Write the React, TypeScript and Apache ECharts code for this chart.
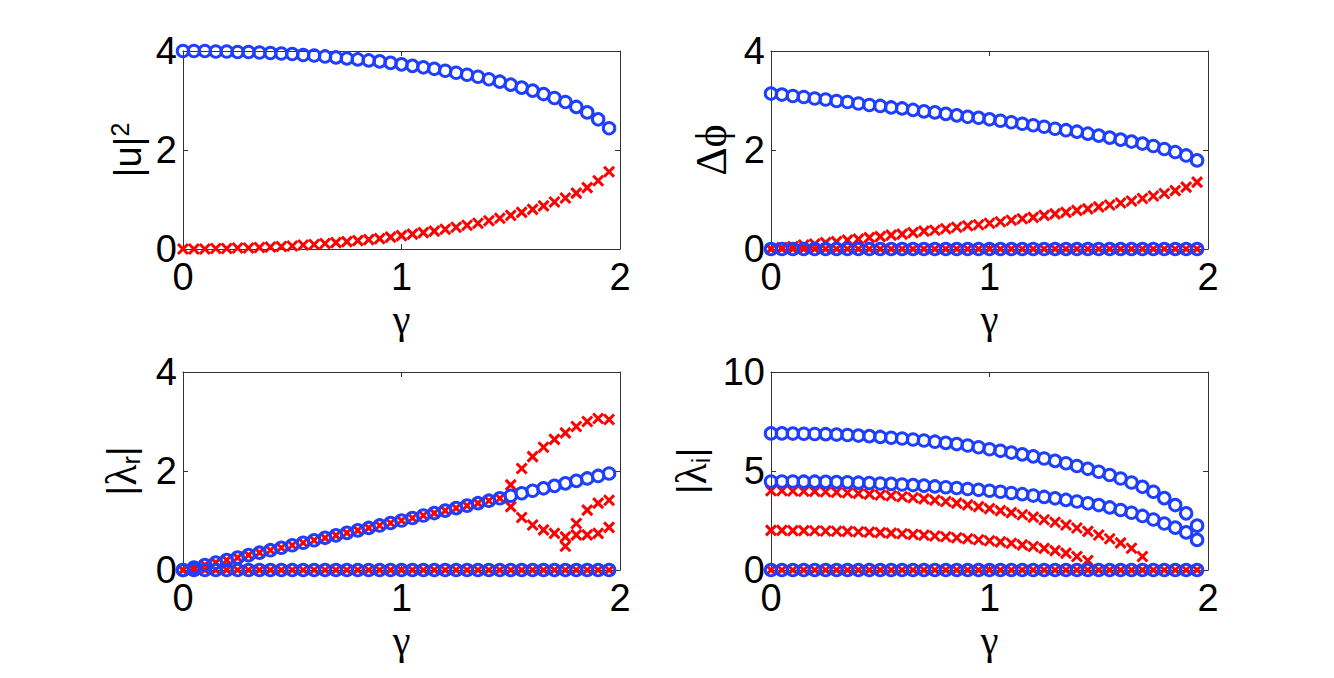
import React, { useEffect, useRef } from "react";
import * as echarts from "echarts";

// gamma grid (x values)
const gamma: number[] = [
  0, 0.05, 0.1, 0.15, 0.2, 0.25, 0.3, 0.35, 0.4, 0.45, 0.5, 0.55, 0.6, 0.65, 0.7, 0.75, 0.8, 0.85, 0.9, 0.95,
  1.0, 1.05, 1.1, 1.15, 1.2, 1.25, 1.3, 1.35, 1.4, 1.45, 1.5, 1.55, 1.6, 1.65, 1.7, 1.75, 1.8, 1.85, 1.9, 1.95,
];

// panel 1: |u|^2
const u2Blue: number[] = [
  4.0, 4.0, 4.0, 3.99, 3.99, 3.98, 3.98, 3.97, 3.96, 3.95, 3.94, 3.92, 3.91, 3.89, 3.87, 3.85, 3.83, 3.81, 3.79, 3.76,
  3.73, 3.7, 3.67, 3.64, 3.6, 3.56, 3.52, 3.48, 3.43, 3.38, 3.32, 3.26, 3.2, 3.13, 3.05, 2.97, 2.87, 2.76, 2.62, 2.44,
];
const u2Red: number[] = [
  0.0, 0.0, 0.0, 0.01, 0.01, 0.02, 0.02, 0.03, 0.04, 0.05, 0.06, 0.08, 0.09, 0.11, 0.13, 0.15, 0.17, 0.19, 0.21, 0.24,
  0.27, 0.3, 0.33, 0.36, 0.4, 0.44, 0.48, 0.52, 0.57, 0.62, 0.68, 0.74, 0.8, 0.87, 0.95, 1.03, 1.13, 1.24, 1.38, 1.56,
];

// panel 2: delta phi
const phiBlue: number[] = [
  3.14, 3.12, 3.09, 3.07, 3.04, 3.02, 2.99, 2.97, 2.94, 2.91, 2.89, 2.86, 2.84, 2.81, 2.78, 2.76, 2.73, 2.7, 2.67, 2.65,
  2.62, 2.59, 2.56, 2.53, 2.5, 2.47, 2.43, 2.4, 2.37, 2.33, 2.29, 2.25, 2.21, 2.17, 2.13, 2.08, 2.02, 1.96, 1.89, 1.79,
];
const phiRed: number[] = [
  0.0, 0.03, 0.05, 0.08, 0.1, 0.13, 0.15, 0.18, 0.2, 0.23, 0.25, 0.28, 0.3, 0.33, 0.36, 0.38, 0.41, 0.44, 0.47, 0.49,
  0.52, 0.55, 0.58, 0.61, 0.64, 0.68, 0.71, 0.74, 0.78, 0.81, 0.85, 0.89, 0.93, 0.97, 1.02, 1.07, 1.12, 1.18, 1.25, 1.35,
];
const phiZeroBlue: number[] = gamma.map(() => 0);
const phiZeroRed: number[] = gamma.map(() => 0);

// panel 3: |lambda_r|
const lrBlueLine: number[] = [
  0.0, 0.05, 0.1, 0.15, 0.2, 0.25, 0.3, 0.35, 0.4, 0.45, 0.5, 0.55, 0.6, 0.65, 0.7, 0.75, 0.8, 0.85, 0.9, 0.95,
  1.0, 1.05, 1.1, 1.15, 1.2, 1.25, 1.3, 1.35, 1.4, 1.45, 1.5, 1.55, 1.6, 1.65, 1.7, 1.75, 1.8, 1.85, 1.9, 1.95,
];
const lrRedLineG: number[] = [
  0, 0.05, 0.1, 0.15, 0.2, 0.25, 0.3, 0.35, 0.4, 0.45, 0.5, 0.55, 0.6, 0.65, 0.7, 0.75, 0.8, 0.85, 0.9, 0.95,
  1.0, 1.05, 1.1, 1.15, 1.2, 1.25, 1.3, 1.35, 1.4, 1.45,
];
const lrRedLine: number[] = [
  0.0, 0.05, 0.1, 0.15, 0.2, 0.25, 0.3, 0.35, 0.4, 0.45, 0.5, 0.55, 0.6, 0.65, 0.7, 0.75, 0.8, 0.85, 0.9, 0.95,
  1.0, 1.05, 1.1, 1.15, 1.2, 1.25, 1.3, 1.35, 1.4, 1.45,
];
const lrBranchG: number[] = [1.5, 1.55, 1.6, 1.65, 1.7, 1.75, 1.8, 1.85, 1.9, 1.95];
const lrRedUpper: number[] = [1.72, 2.05, 2.29, 2.48, 2.64, 2.77, 2.9, 3.0, 3.06, 3.04];
const lrRedLower: number[] = [1.28, 1.06, 0.91, 0.81, 0.74, 0.67, 0.71, 0.71, 0.74, 0.86];
const lrThirdG: number[] = [1.75, 1.8, 1.85, 1.9, 1.95];
const lrRedThird: number[] = [0.48, 0.94, 1.21, 1.35, 1.41];

// panel 4: |lambda_i|
const liBlueUpper: number[] = [
  6.9, 6.9, 6.89, 6.88, 6.87, 6.86, 6.84, 6.82, 6.79, 6.76, 6.72, 6.68, 6.64, 6.59, 6.54, 6.48, 6.42, 6.36, 6.29, 6.2,
  6.1, 6.02, 5.93, 5.84, 5.74, 5.63, 5.51, 5.39, 5.25, 5.11, 4.96, 4.8, 4.62, 4.42, 4.2, 3.95, 3.63, 3.28, 2.86, 2.24,
];
const liBlueLower: number[] = [
  4.47, 4.47, 4.47, 4.46, 4.46, 4.45, 4.44, 4.43, 4.41, 4.39, 4.37, 4.35, 4.32, 4.29, 4.26, 4.22, 4.18, 4.14, 4.09, 4.05,
  4.0, 3.95, 3.89, 3.83, 3.76, 3.69, 3.62, 3.54, 3.46, 3.37, 3.28, 3.16, 3.03, 2.89, 2.73, 2.55, 2.35, 2.14, 1.9, 1.52,
];
const liRedUpperG: number[] = [
  0, 0.05, 0.1, 0.15, 0.2, 0.25, 0.3, 0.35, 0.4, 0.45, 0.5, 0.55, 0.6, 0.65, 0.7, 0.75, 0.8, 0.85, 0.9, 0.95,
  1.0, 1.05, 1.1, 1.15, 1.2, 1.25, 1.3, 1.35, 1.4, 1.45, 1.5, 1.55, 1.6, 1.65, 1.7,
];
const liRedUpper: number[] = [
  4.0, 4.0, 3.99, 3.98, 3.97, 3.95, 3.93, 3.9, 3.87, 3.83, 3.79, 3.75, 3.7, 3.65, 3.59, 3.53, 3.46, 3.38, 3.29, 3.2,
  3.1, 3.0, 2.9, 2.79, 2.67, 2.54, 2.41, 2.27, 2.12, 1.95, 1.77, 1.58, 1.37, 1.1, 0.68,
];
const liRedLowerG: number[] = [
  0, 0.05, 0.1, 0.15, 0.2, 0.25, 0.3, 0.35, 0.4, 0.45, 0.5, 0.55, 0.6, 0.65, 0.7, 0.75, 0.8, 0.85, 0.9, 0.95,
  1.0, 1.05, 1.1, 1.15, 1.2, 1.25, 1.3, 1.35, 1.4, 1.45,
];
const liRedLower: number[] = [
  2.0, 2.0, 1.99, 1.99, 1.98, 1.97, 1.96, 1.95, 1.93, 1.91, 1.89, 1.86, 1.83, 1.8, 1.76, 1.72, 1.68, 1.63, 1.58, 1.53,
  1.48, 1.42, 1.35, 1.27, 1.19, 1.09, 0.98, 0.85, 0.68, 0.48,
];
const zeroRow: number[] = gamma.map(() => 0);

// axis tick labels
const xTicks: number[] = [0, 1, 2];
const yMaxes: number[] = [4, 4, 4, 10];
const yIntervals: number[] = [2, 2, 2, 5];

const BLUE = "#1f3fff";
const RED = "#ff0000";
const CROSS = "path://M0,0L10,10M10,0L0,10";

const pair = (xs: number[], ys: number[]) => xs.map((x, i) => [x, ys[i]]);

export default function App() {
  const ref = useRef<HTMLDivElement>(null);
  useEffect(() => {
    if (!ref.current) return;
    const chart = echarts.init(ref.current, undefined, { renderer: "svg" });

    const grids = [
      { left: 183, top: 51, width: 437, height: 198 },
      { left: 771, top: 51, width: 437, height: 198 },
      { left: 183, top: 372, width: 437, height: 198 },
      { left: 771, top: 372, width: 437, height: 198 },
    ];
    const yNames = ["|u|{sup|2}", "{g|Δϕ}", "|{g|λ}{sub|r}|", "|{g|λ}{sub|i}|"];
    const yNameGaps = [34, 38, 40, 58];
    const tickFont = { fontSize: 38, fontFamily: "Liberation Sans, Arial, sans-serif", color: "#000" };

    const xAxis: any[] = [];
    const yAxis: any[] = [];
    grids.forEach((g, i) => {
      xAxis.push({
        gridIndex: i, type: "value", min: 0, max: 2, interval: 1,
        name: "γ", nameLocation: "middle", nameGap: 50,
        nameTextStyle: { fontSize: 40, fontFamily: "Liberation Serif, DejaVu Serif, serif", color: "#000" },
        axisLine: { show: true, onZero: false, lineStyle: { color: "#333", width: 1 } },
        axisTick: { show: true, inside: true, length: 5, lineStyle: { color: "#333" } },
        axisLabel: { ...tickFont, margin: 9, formatter: (v: number) => (xTicks.includes(v) ? String(v) : "") },
        splitLine: { show: false },
      });
      xAxis.push({
        gridIndex: i, type: "value", min: 0, max: 2, interval: 1, position: "top",
        axisLine: { show: true, onZero: false, lineStyle: { color: "#333", width: 1 } },
        axisTick: { show: true, inside: true, length: 5, lineStyle: { color: "#333" } },
        axisLabel: { show: false }, splitLine: { show: false },
      });
      yAxis.push({
        gridIndex: i, type: "value", min: 0, max: yMaxes[i], interval: yIntervals[i],
        name: yNames[i], nameLocation: "middle", nameGap: yNameGaps[i], nameRotate: 90,
        nameTextStyle: {
          fontSize: 38, fontFamily: "Liberation Sans, Arial, sans-serif", color: "#000", lineHeight: 42,
          rich: {
            sup: { fontSize: 25, fontFamily: "Liberation Sans, Arial, sans-serif", verticalAlign: "top", lineHeight: 24, color: "#000" },
            sub: { fontSize: 25, fontFamily: "Liberation Sans, Arial, sans-serif", verticalAlign: "bottom", lineHeight: 24, color: "#000" },
            g: { fontSize: 44, fontFamily: "Liberation Serif, DejaVu Serif, serif", lineHeight: 44, color: "#000" },
          },
        },
        axisLine: { show: true, onZero: false, lineStyle: { color: "#333", width: 1 } },
        axisTick: { show: true, inside: true, length: 5, lineStyle: { color: "#333" } },
        axisLabel: { ...tickFont, margin: 6 },
        splitLine: { show: false },
      });
      yAxis.push({
        gridIndex: i, type: "value", min: 0, max: yMaxes[i], interval: yIntervals[i], position: "right",
        axisLine: { show: true, onZero: false, lineStyle: { color: "#333", width: 1 } },
        axisTick: { show: true, inside: true, length: 5, lineStyle: { color: "#333" } },
        axisLabel: { show: false }, splitLine: { show: false },
      });
    });

    const circle = (gi: number, data: number[][]) => ({
      type: "scatter", xAxisIndex: gi * 2, yAxisIndex: gi * 2, data, clip: false,
      symbol: "circle", symbolSize: 11.5,
      itemStyle: { color: "rgba(0,0,0,0)", borderColor: BLUE, borderWidth: 3, opacity: 1 },
      emphasis: { disabled: true }, z: 3,
    });
    const cross = (gi: number, data: number[][]) => ({
      type: "scatter", xAxisIndex: gi * 2, yAxisIndex: gi * 2, data, clip: false,
      symbol: CROSS, symbolSize: 10,
      itemStyle: { color: "rgba(0,0,0,0)", borderColor: RED, borderWidth: 3, opacity: 1 },
      emphasis: { disabled: true }, z: 2,
    });

    const series = [
      circle(0, pair(gamma, u2Blue)),
      cross(0, pair(gamma, u2Red)),
      cross(1, pair(gamma, phiZeroRed)),
      circle(1, pair(gamma, phiZeroBlue)),
      circle(1, pair(gamma, phiBlue)),
      cross(1, pair(gamma, phiRed)),
      cross(2, pair(gamma, zeroRow)),
      circle(2, pair(gamma, zeroRow)),
      circle(2, pair(gamma, lrBlueLine)),
      cross(2, pair(lrRedLineG, lrRedLine)),
      cross(2, pair(lrBranchG, lrRedUpper)),
      cross(2, pair(lrBranchG, lrRedLower)),
      cross(2, pair(lrThirdG, lrRedThird)),
      cross(3, pair(gamma, zeroRow)),
      circle(3, pair(gamma, zeroRow)),
      circle(3, pair(gamma, liBlueUpper)),
      circle(3, pair(gamma, liBlueLower)),
      cross(3, pair(liRedUpperG, liRedUpper)),
      cross(3, pair(liRedLowerG, liRedLower)),
    ];

    chart.setOption({
      animation: false,
      backgroundColor: "#fff",
      grid: grids.map((g) => ({ ...g, containLabel: false })),
      xAxis,
      yAxis,
      series,
    });
    return () => chart.dispose();
  }, []);
  return (
    <div
      ref={ref}
      style={{ position: "fixed", left: 0, top: 0, width: 1334, height: 678, background: "#fff" }}
    />
  );
}
